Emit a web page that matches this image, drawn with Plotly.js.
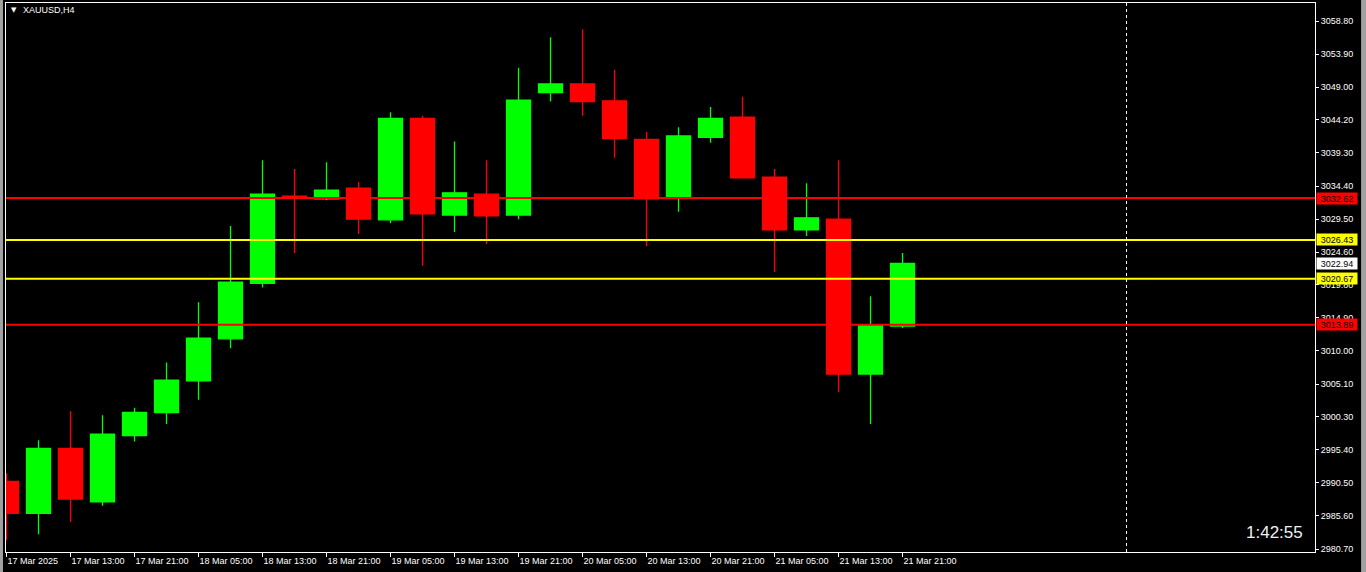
<!DOCTYPE html>
<html>
<head>
<meta charset="utf-8">
<script src="https://cdn.plot.ly/plotly-3.0.1.min.js"></script>
<style>
  html, body { margin: 0; padding: 0; background: #000000; }
  #chart { width: 1366px; height: 572px; }
</style>
</head>
<body>
<div id="chart"></div>
<script>
// ---- data (XAUUSD, H4 bars from 17 Mar 05:00 to 21 Mar 21:00) ----
const symbol = "XAUUSD,H4";
const opens  = [2990.7, 2986.0, 2995.6, 2987.7, 2997.5, 3000.9, 3005.6, 3011.8, 3020.0, 3032.9,
                3032.5, 3034.1, 3029.4, 3044.4, 3030.1, 3033.2, 3030.1, 3048.2, 3049.5, 3047.0,
                3041.3, 3032.6, 3041.6, 3044.6, 3035.7, 3027.9, 3029.5, 3006.6, 3013.7];
const highs  = [2991.9, 2996.8, 3001.1, 3000.5, 3001.6, 3008.3, 3017.2, 3028.5, 3038.2, 3036.9,
                3037.9, 3035.0, 3045.3, 3044.8, 3041.0, 3038.2, 3051.9, 3056.4, 3057.6, 3051.6,
                3042.4, 3043.1, 3046.1, 3047.6, 3036.9, 3034.8, 3038.2, 3018.1, 3024.5];
const lows   = [2982.0, 2982.9, 2984.7, 2987.1, 2996.6, 2999.2, 3002.8, 3010.4, 3019.4, 3024.5,
                3032.3, 3027.3, 3028.9, 3022.6, 3027.6, 3025.8, 3029.5, 3046.9, 3044.8, 3038.6,
                3025.5, 3030.6, 3040.8, 3035.5, 3021.7, 3027.0, 3003.9, 2999.2, 3013.4];
const closes = [2986.0, 2995.6, 2988.1, 2997.7, 3000.9, 3005.7, 3011.9, 3020.2, 3033.2, 3032.7,
                3033.8, 3029.5, 3044.4, 3030.3, 3033.4, 3030.0, 3047.1, 3049.5, 3046.9, 3041.4,
                3032.5, 3041.8, 3044.4, 3035.6, 3027.9, 3029.7, 3006.6, 3013.8, 3022.94];

// x tick labels (one every 2 bars)
const xTickLabels = ["17 Mar 2025", "17 Mar 13:00", "17 Mar 21:00", "18 Mar 05:00", "18 Mar 13:00",
                     "18 Mar 21:00", "19 Mar 05:00", "19 Mar 13:00", "19 Mar 21:00", "20 Mar 05:00",
                     "20 Mar 13:00", "20 Mar 21:00", "21 Mar 05:00", "21 Mar 13:00", "21 Mar 21:00"];
// y tick labels (price scale)
const yTickLabels = ["3058.80", "3053.90", "3049.00", "3044.20", "3039.30", "3034.40", "3029.50",
                     "3024.60", "3019.80", "3014.90", "3010.00", "3005.10", "3000.30", "2995.40",
                     "2990.50", "2985.60", "2980.70"];

// horizontal levels
const redLevels    = [3032.62, 3013.89];
const yellowLevels = [3026.43, 3020.67];
const bidPrice     = 3022.94;
const timerText    = "1:42:55";

// ---- build ----
const xIdx = opens.map((_, i) => i);
const xTickVals = xTickLabels.map((_, i) => i * 2);
const yTickVals = yTickLabels.map(s => parseFloat(s));

const GREEN = "#00ff00", RED = "#ff0000", YELLOW = "#ffff00";
const FONT = "Liberation Sans, Arial, sans-serif";

const trace = {
  type: "candlestick",
  x: xIdx, open: opens, high: highs, low: lows, close: closes,
  increasing: { line: { color: GREEN, width: 1.3 }, fillcolor: GREEN },
  decreasing: { line: { color: RED, width: 1.3 }, fillcolor: RED },
  whiskerwidth: 0,
  hoverinfo: "skip",
  showlegend: false
};

const shapes = [];
const annotations = [];
function levelLine(v, color) {
  shapes.push({ type: "line", xref: "paper", x0: 0, x1: 1, yref: "y", y0: v, y1: v,
                line: { color: color, width: 2 }, layer: "above" });
}
function priceLabel(v, bg) {
  annotations.push({ xref: "paper", x: 1, xanchor: "left", xshift: 1, yref: "y", y: v, yanchor: "middle",
                     text: v.toFixed(2), showarrow: false, bgcolor: bg, width: 40, height: 11,
                     borderpad: 0, align: "center",
                     font: { family: FONT, size: 9, color: "#000000" } });
}
redLevels.forEach(v => levelLine(v, RED));
yellowLevels.forEach(v => levelLine(v, YELLOW));
redLevels.forEach(v => priceLabel(v, RED));
yellowLevels.forEach(v => priceLabel(v, YELLOW));
priceLabel(bidPrice, "#ffffff");

// chart shift marker (dashed vertical)
shapes.push({ type: "line", xref: "x", x0: 35, x1: 35, yref: "paper", y0: 0, y1: 1,
              line: { color: "#ffffff", width: 1, dash: "dot" } });
// window frame strips
shapes.push({ type: "rect", xref: "paper", yref: "paper", x0: -0.0046, x1: -0.0023, y0: -0.04, y1: 1.01,
              fillcolor: "#a0a0a0", line: { width: 0 } });
shapes.push({ type: "rect", xref: "paper", yref: "paper", x0: 1.0352, x1: 1.04, y0: -0.04, y1: 1.01,
              fillcolor: "#a0a0a0", line: { width: 0 } });

// symbol caption
annotations.push({ xref: "paper", yref: "paper", x: 0.0025, y: 0.9875, xanchor: "left", yanchor: "middle",
                   text: "▼", showarrow: false, font: { family: "DejaVu Sans", size: 7, color: "#ffffff" } });
annotations.push({ xref: "paper", yref: "paper", x: 0.0112, y: 0.9875, xanchor: "left", yanchor: "middle",
                   text: symbol, showarrow: false, font: { family: FONT, size: 9, color: "#ffffff" } });
// bar timer
annotations.push({ xref: "paper", yref: "paper", x: 0.9924, y: 0.0355, xanchor: "right", yanchor: "middle",
                   text: timerText, showarrow: false, font: { family: FONT, size: 17, color: "#f0f0f0" } });

const layout = {
  width: 1366, height: 572,
  margin: { l: 6, r: 51, t: 3, b: 20, pad: 0 },
  paper_bgcolor: "#000000", plot_bgcolor: "#000000",
  boxgap: 0.25,
  boxgroupgap: 0,
  showlegend: false,
  dragmode: false,
  xaxis: {
    type: "linear",
    range: [-0.016, 40.89],
    rangeslider: { visible: false },
    tickmode: "array", tickvals: xTickVals, ticktext: xTickLabels,
    ticks: "outside", ticklen: 4, tickcolor: "#ffffff", tickwidth: 1,
    ticklabelposition: "outside right",
    tickfont: { family: FONT, size: 9, color: "#ffffff" },
    showgrid: false, zeroline: false,
    showline: true, linecolor: "#ffffff", linewidth: 1, mirror: true
  },
  yaxis: {
    side: "right",
    range: [2980.27, 3061.47],
    tickmode: "array", tickvals: yTickVals, ticktext: yTickLabels,
    ticks: "outside", ticklen: 3, tickcolor: "#ffffff", tickwidth: 1,
    tickfont: { family: FONT, size: 9, color: "#ffffff" },
    showgrid: false, zeroline: false,
    showline: true, linecolor: "#ffffff", linewidth: 1, mirror: true
  },
  shapes: shapes,
  annotations: annotations
};

Plotly.newPlot("chart", [trace], layout, { staticPlot: true, displayModeBar: false });
</script>
</body>
</html>
